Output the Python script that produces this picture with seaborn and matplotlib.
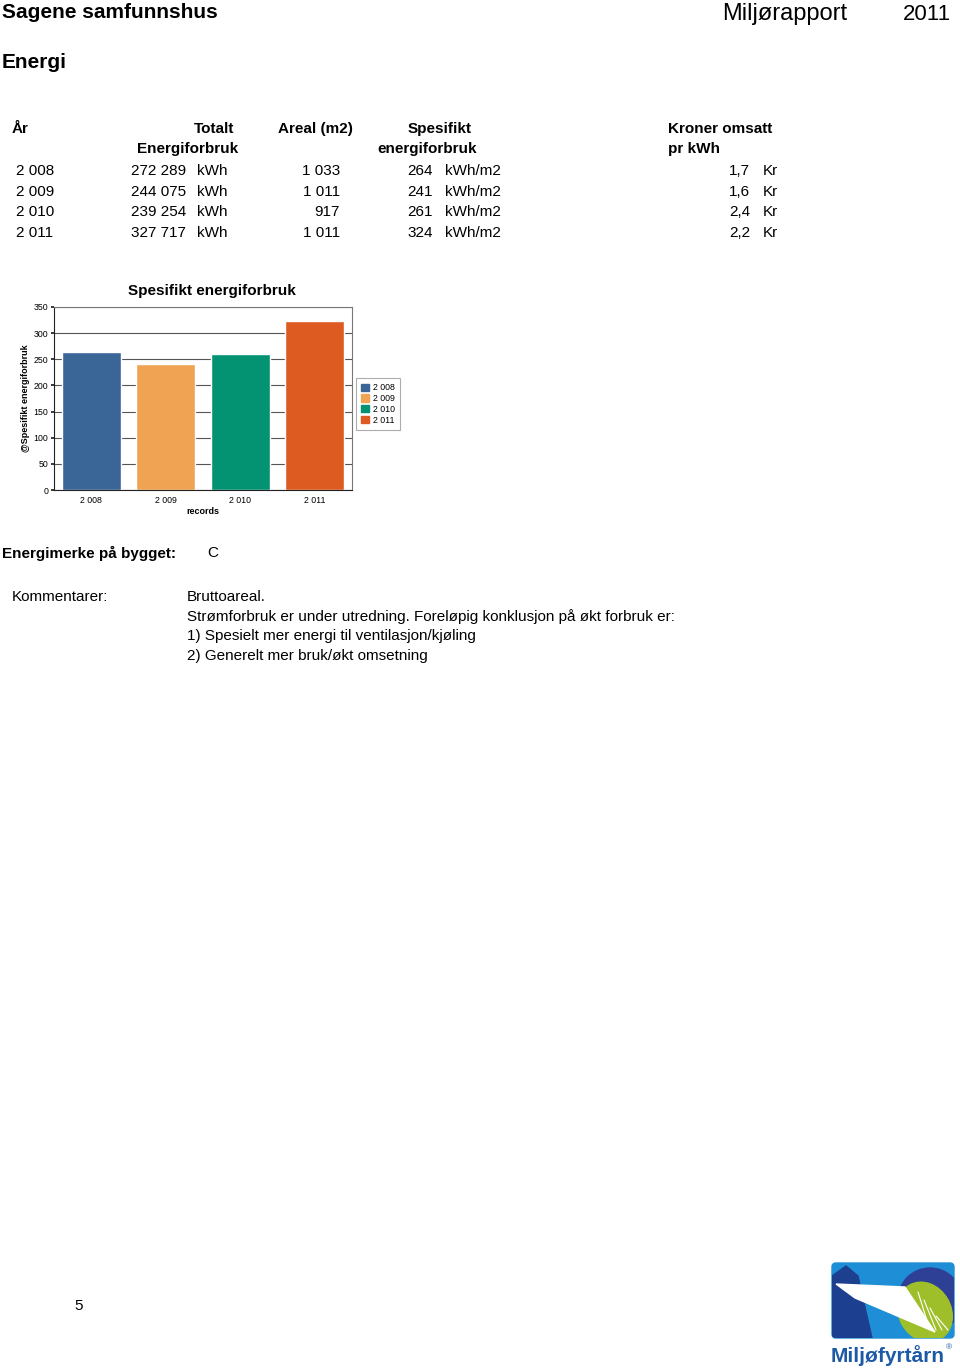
import matplotlib
matplotlib.use('Agg')
import matplotlib.pyplot as plt
import matplotlib.patches as mpatches
import seaborn as sns
import pandas as pd

# Data
years = ['2 008', '2 009', '2 010', '2 011']
totals = ['272 289', '244 075', '239 254', '327 717']
areas = ['1 033', '1 011', '917', '1 011']
specific = [264, 241, 261, 324]
kroner = ['1,7', '1,6', '2,4', '2,2']
colors = ['#3A6597', '#F0A453', '#049372', '#DD5A20']
comments = ['Bruttoareal.',
            'Strømforbruk er under utredning. Foreløpig konklusjon på økt forbruk er:',
            '1) Spesielt mer energi til ventilasjon/kjøling',
            '2) Generelt mer bruk/økt omsetning']

sns.set_theme(style='white')
plt.rcParams['font.family'] = ['Liberation Sans', 'DejaVu Sans']
plt.rcParams['text.color'] = 'black'
plt.rcParams['axes.labelcolor'] = 'black'
plt.rcParams['xtick.color'] = 'black'
plt.rcParams['ytick.color'] = 'black'

W, H = 960, 1371
fig = plt.figure(figsize=(W / 100, H / 100), dpi=100)


def txt(x, y, s, size=11, weight='normal', ha='left', color='black'):
    fig.text(x / W, 1 - (y + 1) / H, s, fontsize=size, fontweight=weight, ha=ha, va='center', color=color)


# Header
txt(2, 11, 'Sagene samfunnshus', size=15, weight='bold')
txt(722, 13, 'Miljørapport', size=17)
txt(903, 13, '2011', size=16)
txt(2, 61, 'Energi', size=15, weight='bold')

# Table
txt(12, 128, 'År', weight='bold')
txt(234, 128, 'Totalt', weight='bold', ha='right')
txt(238, 148, 'Energiforbruk', weight='bold', ha='right')
txt(278, 128, 'Areal (m2)', weight='bold')
txt(408, 128, 'Spesifikt', weight='bold')
txt(377, 148, 'energiforbruk', weight='bold')
txt(668, 128, 'Kroner omsatt', weight='bold')
txt(668, 148, 'pr kWh', weight='bold')
for i, yr in enumerate(years):
    y = 170 + i * 20.7
    txt(16, y, yr)
    txt(186, y, totals[i], ha='right')
    txt(197, y, 'kWh')
    txt(340, y, areas[i], ha='right')
    txt(433, y, str(specific[i]), ha='right')
    txt(445, y, 'kWh/m2')
    txt(750, y, kroner[i], ha='right')
    txt(763, y, 'Kr')

# Chart
df = pd.DataFrame({'year': years, 'value': specific})
ax = fig.add_axes([54 / W, 1 - 490 / H, 298 / W, 183 / H])
sns.barplot(data=df, x='year', y='value', hue='year', palette=colors,
            dodge=False, width=0.79, saturation=1, legend=False, ax=ax)
ax.set_ylim(0, 350)
ax.set_xlim(-0.5, 3.5)
ax.set_yticks(range(0, 351, 50))
ax.yaxis.grid(True, color='#555555', linewidth=0.8)
ax.set_axisbelow(True)
for s in ax.spines.values():
    s.set_color('#777777')
    s.set_linewidth(0.8)
ax.spines['left'].set_color('#222222')
ax.spines['bottom'].set_color('#222222')
ax.tick_params(axis='both', labelsize=6.3, pad=2)
ax.tick_params(axis='y', left=True, length=2, color='#222222')
ax.tick_params(axis='x', bottom=False, length=0, pad=4)
ax.set_xlabel('records', fontsize=6.5, fontweight='bold', labelpad=2)
ax.set_ylabel('@Spesifikt energiforbruk', fontsize=6.5, fontweight='bold', labelpad=3)
ax.set_title('Spesifikt energiforbruk', fontsize=11, fontweight='bold', pad=9, x=0.53)
handles = [mpatches.Patch(color=c, label=l) for c, l in zip(colors, years)]
leg = ax.legend(handles=handles, loc='center left', bbox_to_anchor=(1.012, 0.47),
                fontsize=6.3, frameon=True, fancybox=False, handlelength=0.9,
                handleheight=0.9, handletextpad=0.5, labelspacing=0.2,
                borderpad=0.6, borderaxespad=0, edgecolor='#999999')
leg.get_frame().set_linewidth(0.8)

# Below chart
txt(2, 552, 'Energimerke på bygget:', weight='bold')
txt(207, 552, 'C')
txt(12, 596, 'Kommentarer:')
for i, line in enumerate(comments):
    txt(187, 596 + i * 19.7, line)
txt(74, 1305, '5')

# Logo
lax = fig.add_axes([826 / W, 1 - 1370 / H, 134 / W, 112 / H])
lax.set_xlim(826, 960)
lax.set_ylim(1370, 1258)
lax.axis('off')
box = mpatches.FancyBboxPatch((832, 1263), 122, 75, boxstyle='round,pad=0,rounding_size=4',
                              color='#1E8FD6')
lax.add_patch(box)
shapes = [
    mpatches.Circle((930, 1300), 32, color='#2E3F96'),
    mpatches.Ellipse((925, 1312), 52, 62, angle=-30, color='#9FBF2A'),
    mpatches.Polygon([(832, 1276), (846, 1266), (858, 1276), (872, 1338), (832, 1338)], color='#1D3F8F'),
    mpatches.Polygon([(836, 1284), (905, 1287), (935, 1332), (855, 1298)], color='white'),
]
for p in shapes:
    lax.add_patch(p)
    p.set_clip_path(box)
for k in range(4):
    ln, = lax.plot([918 + k * 6, 930 + k * 6], [1292 + k * 8, 1330], color='white', lw=0.8)
    ln.set_clip_path(box)
lax.text(831, 1356, 'Miljøfyrtårn', fontsize=15, color='#1D5AA6', va='center', fontweight='bold')
lax.text(946, 1348, '®', fontsize=6, color='#1D5AA6', va='center')

fig.savefig('out.png', dpi=100)
